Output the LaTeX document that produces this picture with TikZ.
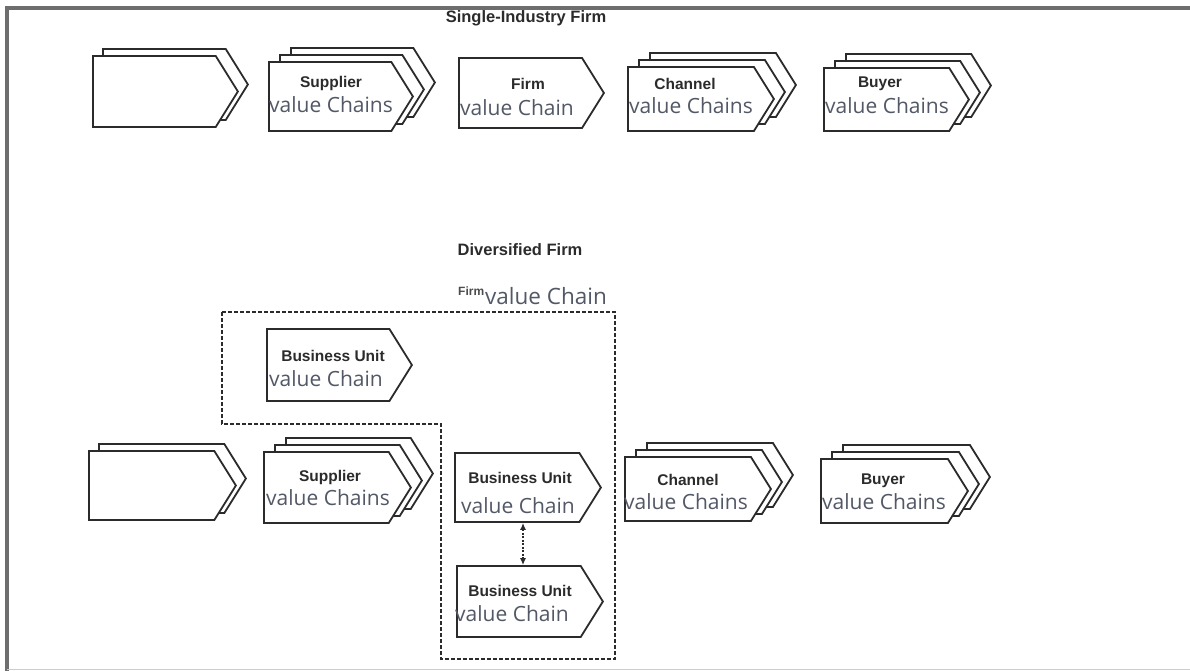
\documentclass[tikz,border=0pt]{standalone}
\usepackage{fontspec}
\setmainfont{Liberation Sans}
\newfontfamily\vcfont{Open Sans}
\usetikzlibrary{shapes.symbols,shadows,arrows.meta}
\definecolor{ink}{HTML}{2B2B2B}
\definecolor{vcgray}{HTML}{525866}
\definecolor{framegray}{HTML}{6E6E6E}
\tikzset{
  vchain/.style={signal, signal to=east, signal pointer angle=116, draw=ink,
    line width=1.8pt, fill=white, inner sep=0pt, anchor=west},
  layertwo/.style={copy shadow={shadow xshift=10pt, shadow yshift=7pt, draw=ink, fill=white, line width=1.8pt}},
  layerthree/.style={copy shadow={shadow xshift=22pt, shadow yshift=14pt, draw=ink, fill=white, line width=1.8pt},
    copy shadow={shadow xshift=11pt, shadow yshift=7pt, draw=ink, fill=white, line width=1.8pt}},
  lab/.style={font=\bfseries\fontsize{15.5}{17}\selectfont, text=ink, inner sep=0pt},
  ttl/.style={font=\bfseries\fontsize{16.5}{18}\selectfont, text=ink, inner sep=0pt},
  vc/.style={font=\vcfont\fontsize{21}{24}\selectfont, text=vcgray, inner sep=0pt, anchor=west},
  outline/.style={draw=ink, line width=1.7pt, dash pattern=on 4pt off 2pt},
}
\begin{document}
\begin{tikzpicture}[x=1pt, y=-1pt]
\useasboundingbox (0,0) rectangle (1190,671);
% frame
\draw[framegray, line width=4pt] (7,671) -- (7,8) -- (1190,8);
\draw[gray!40, line width=1.2pt] (7,669.5) -- (1190,669.5);

% ---------- Single-industry firm ----------
\node[ttl] (title1) at (526,18) {Single-Industry Firm};
\node[vchain, layertwo, minimum width=145pt, minimum height=71pt] (t1) at (92,91.5) {};
\node[vchain, layerthree, minimum width=144pt, minimum height=69pt] (t2) at (268,96.5) {};
\node[vchain, minimum width=145pt, minimum height=70pt] (t3) at (458,93) {};
\node[vchain, layerthree, minimum width=146pt, minimum height=64pt] (t4) at (627,99) {};
\node[vchain, layerthree, minimum width=145pt, minimum height=63pt] (t5) at (823,99.5) {};

\node[lab] (t2a) at (331,83) {Supplier};
\node[vc] (t2b) at (269,105) {value Chains};
\node[lab] (t3a) at (528,84) {Firm};
\node[vc] (t3b) at (460,108) {value Chain};
\node[lab] (t4a) at (685,84) {Channel};
\node[vc] (t4b) at (629,106) {value Chains};
\node[lab] (t5a) at (880,84) {Buyer};
\node[vc] (t5b) at (825,106) {value Chains};

% ---------- Diversified firm ----------
\node[ttl] (title2) at (520,250) {Diversified Firm};
\node[font=\bfseries\fontsize{12}{13}\selectfont, text=ink!85, inner sep=0pt, anchor=west] (fa) at (458,291) {Firm};
\node[vc, font=\vcfont\fontsize{22.5}{25}\selectfont] (fb) at ([xshift=0.5pt, yshift=-5pt]fa.east) {value Chain};
\draw[outline] (222,312) -- (615,312) -- (615,659) -- (441,659) -- (441,424) -- (222,424) -- cycle;

\node[vchain, minimum width=145pt, minimum height=72pt] (bu0) at (266,365) {};
\node[lab] (bu0a) at (333,356) {Business Unit};
\node[vc] (bu0b) at (269,379) {value Chain};

\node[vchain, layertwo, minimum width=147pt, minimum height=69pt] (b1) at (88,485.5) {};
\node[vchain, layerthree, minimum width=147pt, minimum height=71pt] (b2) at (263,487.5) {};
\node[vchain, minimum width=146pt, minimum height=69pt] (bu1) at (454,487.5) {};
\node[vchain, minimum width=146pt, minimum height=71pt] (bu2) at (456,601.5) {};
\node[vchain, layerthree, minimum width=146pt, minimum height=64pt] (b4) at (624,489) {};
\node[vchain, layerthree, minimum width=147pt, minimum height=64pt] (b5) at (820,491) {};

\node[lab] (b2a) at (330,477) {Supplier};
\node[vc] (b2b) at (266,498) {value Chains};
\node[lab] (bu1a) at (520,478) {Business Unit};
\node[vc] (bu1b) at (461,506) {value Chain};
\node[lab] (bu2a) at (520,591) {Business Unit};
\node[vc] (bu2b) at (455,614) {value Chain};
\node[lab] (b4a) at (688,480) {Channel};
\node[vc] (b4b) at (624,502) {value Chains};
\node[lab] (b5a) at (883,481) {Buyer};
\node[vc] (b5b) at (822,502) {value Chains};

\coordinate (ax) at (523,0);
\draw[ink, line width=1.3pt, dash pattern=on 2pt off 1.5pt,
  {Latex[length=7pt,width=6pt]}-{Latex[length=7pt,width=6pt]}]
  (bu1.south -| ax) -- (bu2.north -| ax);
\end{tikzpicture}
\end{document}
